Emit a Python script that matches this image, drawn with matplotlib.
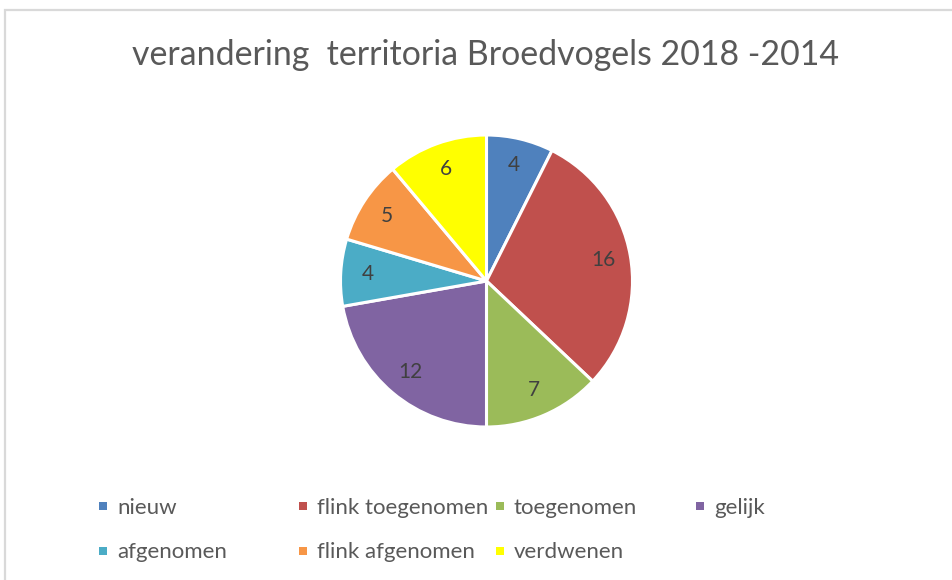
import matplotlib
matplotlib.use("Agg")
import matplotlib.pyplot as plt
from matplotlib.patches import Rectangle

categories = ["nieuw", "flink toegenomen", "toegenomen", "gelijk",
              "afgenomen", "flink afgenomen", "verdwenen"]
values = [4, 16, 7, 12, 4, 5, 6]
colors = ["#4F81BD", "#C0504D", "#9BBB59", "#8064A2",
          "#4BACC6", "#F79646", "#FFFF00"]
title = "verandering  territoria Broedvogels 2018 -2014"

W, H = 952, 580
fig = plt.figure(figsize=(W / 100, H / 100), dpi=100)
fig.patch.set_facecolor("white")
FONT = ["Lato", "DejaVu Sans"]

# chart-area border (top and left visible)
fig.patches.append(Rectangle((5 / W, -0.1), 1.2, 1 - 10 / H + 0.1,
                             transform=fig.transFigure, fill=False,
                             edgecolor="#D9D9D9", linewidth=1.6))

cx, cy, r = 486.5, 281, 146
ax = fig.add_axes([(cx - r) / W, (H - cy - r) / H, 2 * r / W, 2 * r / H])
wedges, texts = ax.pie(values, colors=colors, startangle=90, counterclock=False,
                       labels=[str(v) for v in values], labeldistance=0.815,
                       wedgeprops=dict(edgecolor="white", linewidth=2.2),
                       textprops=dict(color="#404040", fontsize=15, family=FONT))
for t in texts:
    t.set_ha("center")
    t.set_va("center")
ax.set_xlim(-1, 1)
ax.set_ylim(-1, 1)
ax.set_aspect("equal")
ax.axis("off")

fig.text(486 / W, 1 - 65 / H, title, ha="center", va="baseline",
         fontsize=24.4, color="#595959", family=FONT)

# legend (Excel style, flowing columns)
xs = [103, 303, 500, 700, 103, 303, 500]
ys = [506, 506, 506, 506, 551, 551, 551]
for lab, col, x, y in zip(categories, colors, xs, ys):
    s = 8
    fig.patches.append(Rectangle(((x - s / 2) / W, (H - y - s / 2) / H), s / W, s / H,
                                 transform=fig.transFigure, facecolor=col,
                                 edgecolor="none"))
    fig.text((x + 14) / W, 1 - (y + 7.5) / H, lab, ha="left", va="baseline",
             fontsize=16, color="#595959", family=FONT)

fig.savefig("out.png", dpi=100)
